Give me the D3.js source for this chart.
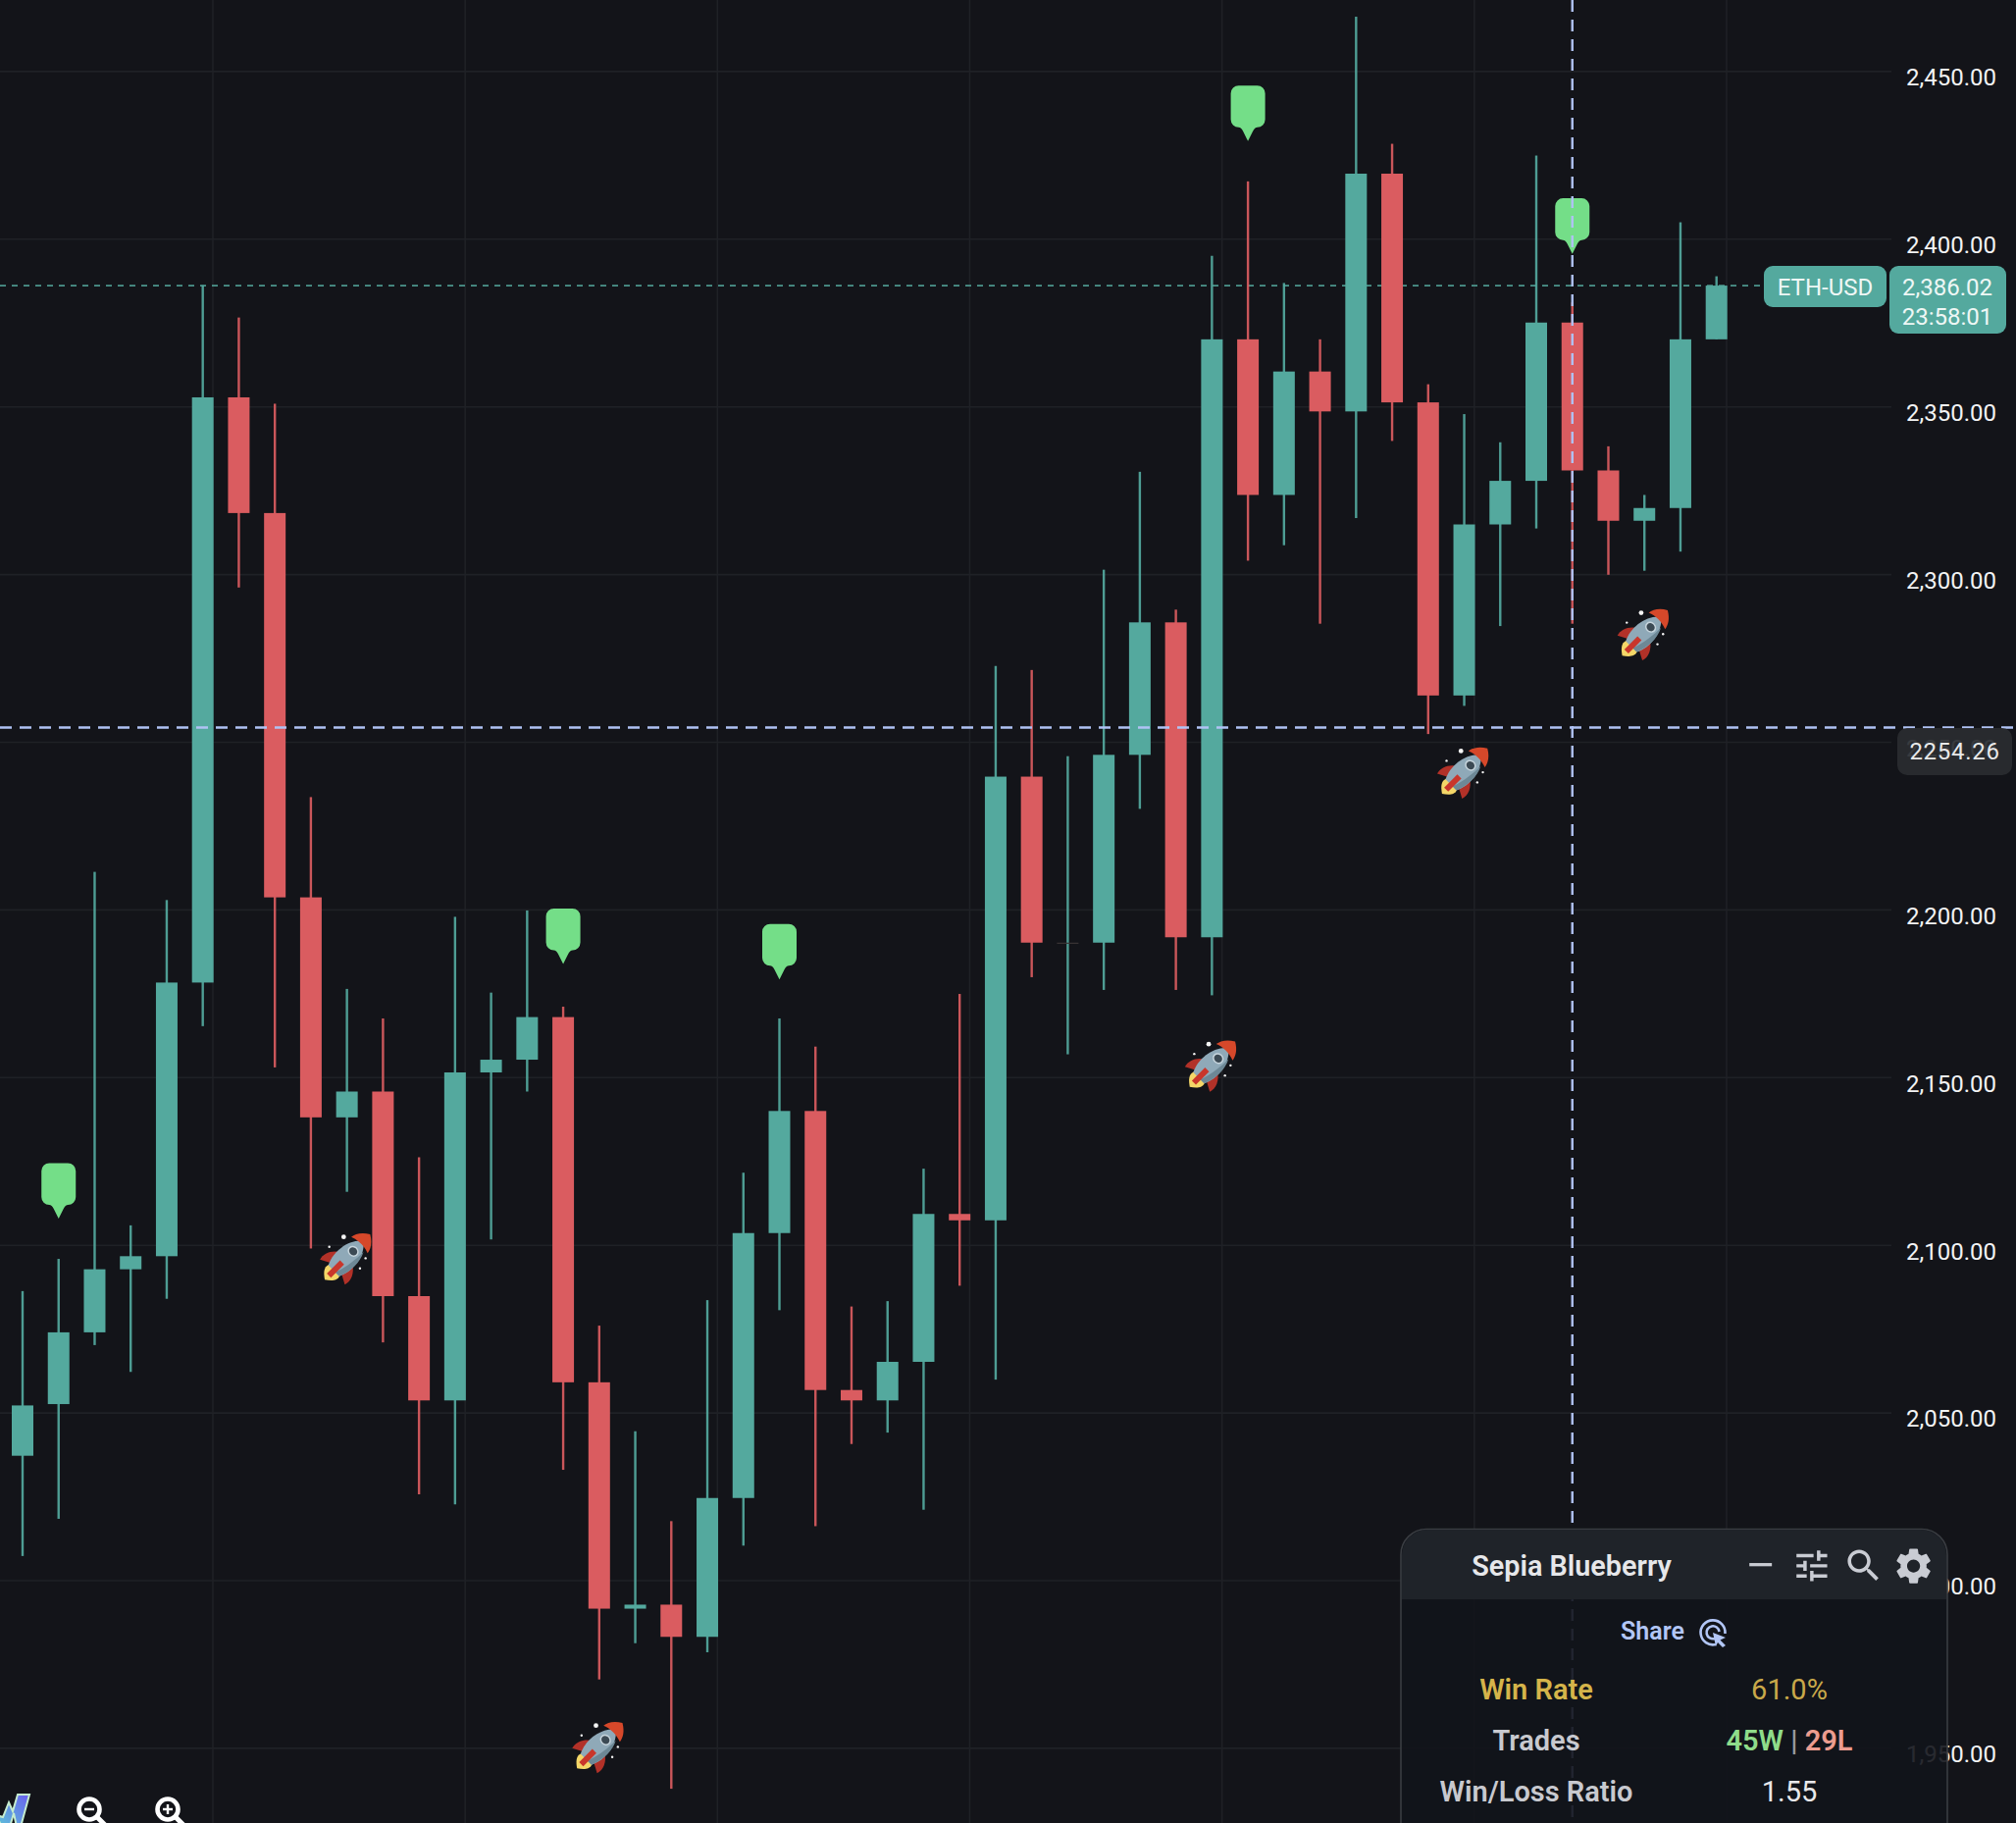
<!DOCTYPE html>
<html>
<head>
<meta charset="utf-8">
<script src="https://cdn.jsdelivr.net/npm/d3@7"></script>
<style>
  html, body { margin: 0; padding: 0; background: #131419; overflow: hidden; }
  svg { display: block; font-family: Roboto, sans-serif; }
</style>
</head>
<body>
<svg id="chart" width="2055" height="1858"></svg>
<script>
// Daily ETH-USD candles, oldest first
const opens = [2037.1,2052.5,2073.9,2092.7,2096.6,2178.2,2352.7,2318.2,2203.6,2138.0,2145.7,2084.7,2053.6,2151.4,2155.2,2167.9,2059.0,1991.5,1992.7,1983.1,2024.5,2103.5,2139.9,2056.7,2053.6,2065.1,2109.2,2107.3,2239.6,2190.1,2190.1,2246.1,2285.6,2191.7,2370.0,2323.6,2360.4,2348.5,2419.4,2351.2,2263.8,2314.8,2327.8,2375.0,2330.9,2315.9,2319.7,2370.0];
const highs = [2086.2,2095.8,2211.2,2105.8,2202.8,2386.1,2376.5,2350.8,2233.5,2176.3,2167.5,2126.1,2197.8,2175.2,2199.7,2171.0,2075.9,2044.4,2017.6,2083.5,2121.5,2167.5,2159.1,2081.6,2083.2,2122.7,2174.8,2272.6,2271.4,2245.7,2301.3,2330.5,2289.4,2394.9,2417.1,2386.8,2370.0,2466.2,2428.3,2356.6,2347.7,2339.3,2424.8,2381.0,2338.1,2323.6,2404.9,2388.8];
const lows = [2007.2,2018.3,2070.1,2062.1,2083.9,2165.2,2296.0,2152.9,2098.9,2115.8,2070.9,2025.6,2022.6,2101.6,2145.7,2032.9,1970.4,1981.2,1937.8,1978.5,2010.3,2080.5,2016.1,2040.6,2044.0,2021.0,2087.8,2059.8,2179.8,2156.8,2176.0,2230.0,2176.0,2174.4,2304.0,2308.6,2285.2,2316.7,2339.7,2252.3,2260.7,2284.5,2313.6,2285.2,2299.8,2301.0,2306.7,2370.0];
const closes = [2052.1,2073.9,2092.7,2096.6,2178.2,2352.7,2318.2,2203.6,2138.0,2145.7,2084.7,2053.6,2151.4,2155.2,2167.9,2059.0,1991.5,1992.7,1983.1,2024.5,2103.5,2139.9,2056.7,2053.6,2065.1,2109.2,2107.3,2239.6,2190.1,2190.1,2246.1,2285.6,2191.7,2370.0,2323.6,2360.4,2348.5,2419.4,2351.2,2263.8,2314.8,2327.8,2375.0,2330.9,2315.9,2319.7,2370.0,2386.02];

// Signals: candle index and the price each marker is pinned to
const flagCandles = [1, 15, 21, 34, 43];
const flagPrices = [2107.8, 2183.7, 2179.1, 2429.1, 2395.5];
const rocketCandles = [9, 16, 33, 40, 45];
const rocketPrices = [2096.2, 1950.5, 2153.7, 2241.1, 2282.3];

const priceTicks = [2450,2400,2350,2300,2250,2200,2150,2100,2050,2000,1950];
const weekLines = [5.28,12.28,19.28,26.28,33.28,40.28,47.28];

const symbolName = "ETH-USD";
const lastPrice = 2386.02;
const countdown = "23:58:01";
const cursorPrice = 2254.26;
const cursorCandle = 43;

const panelTitle = "Sepia Blueberry";
const shareLabel = "Share";
const statLabels = ["Win Rate", "Trades", "Win/Loss Ratio"];
const winRate = "61.0%";
const wins = "45W";
const losses = "29L";
const ratio = "1.55";

const UP = "#54a99e", DOWN = "#da5c60", CROSS = "#b0c2f4", FLAG = "#74de88";
const W = 2055, H = 1858;

const svg = d3.select("#chart");
const x = d3.scaleLinear().domain([0, 47]).range([23, 1749.7]);
const y = d3.scaleLinear().domain([2400, 1950]).range([243.3, 243.3 + 450 * 3.418]);
const candles = opens.map((o, i) => ({ i, o, h: highs[i], l: lows[i], c: closes[i] }));

// Grid
const gridColor = "#1f2126";
svg.append("g").selectAll("line").data(weekLines).join("line")
  .attr("x1", d => x(d)).attr("x2", d => x(d)).attr("y1", 0).attr("y2", H)
  .attr("stroke", gridColor).attr("stroke-width", 1.6);

const axis = svg.append("g").attr("transform", "translate(2035,0)")
  .call(d3.axisLeft(y).tickValues(priceTicks).tickFormat(d3.format(",.2f")).tickSize(0));
axis.select(".domain").remove();
axis.selectAll("text")
  .attr("x", 0).attr("dy", "0.35em").attr("y", 5.9)
  .attr("fill", "#f2f3f4").attr("font-size", 24).attr("font-family", "Roboto");
axis.selectAll(".tick").append("line")
  .attr("x1", -2035).attr("x2", -107).attr("stroke", gridColor).attr("stroke-width", 1.6);

// Last price guide
svg.append("line")
  .attr("x1", 0).attr("x2", 1798).attr("y1", y(lastPrice)).attr("y2", y(lastPrice))
  .attr("stroke", "#4c958c").attr("stroke-width", 1.7).attr("stroke-dasharray", "6 6");

// Candles: a session that closes flat leaves only a faint hairline
const candle = svg.append("g").selectAll("g").data(candles).join("g")
  .attr("fill", d => d.c >= d.o ? UP : DOWN);
candle.append("rect")
  .attr("x", d => x(d.i) - 1.2).attr("width", 2.4)
  .attr("y", d => y(d.h)).attr("height", d => y(d.l) - y(d.h))
  .attr("fill-opacity", 0.92);
candle.append("rect")
  .attr("x", d => x(d.i) - 11).attr("width", 22)
  .attr("y", d => y(Math.max(d.o, d.c)))
  .attr("height", d => Math.max(1.2, Math.abs(y(d.o) - y(d.c))))
  .attr("fill", d => d.o === d.c ? "#3a3536" : null);

// Flag markers, tip on the signal price
svg.append("g").selectAll("path").data(flagCandles).join("path")
  .attr("fill", FLAG)
  .attr("transform", (c, k) => `translate(${x(c)},${y(flagPrices[k])})`)
  .attr("d", "M-17.5,-48.6 a8,8 0 0 1 8,-8 h19 a8,8 0 0 1 8,8 v26.6 a8,8 0 0 1 -8,8 Q7,-14 5,-10 L0,0 L-5,-10 Q-7,-14 -9.5,-14 a8,8 0 0 1 -8,-8 z");

// Rocket markers
const rocket = svg.append("g").selectAll("g").data(rocketCandles).join("g")
  .attr("transform", (c, k) => `translate(${x(c)},${y(rocketPrices[k])})`);
const ship = rocket.append("g").attr("transform", "rotate(45) scale(1.12,1)");
ship.append("path").attr("fill", "#f4d768").attr("d", "M-7,18 C-9,24 -5,28 0,32 C5,28 9,24 7,18 z");
ship.append("path").attr("fill", "#b23128").attr("d", "M-8,1 C-15,6 -18,14 -16,21 L-6,15 z");
ship.append("path").attr("fill", "#b23128").attr("d", "M8,1 C15,6 18,14 16,21 L6,15 z");
ship.append("path").attr("fill", "#8fa9b8").attr("d", "M0,-24 C-11,-14 -13,6 -7,19 L7,19 C13,6 11,-14 0,-24 z");
ship.append("path").attr("fill", "#6d8896").attr("d", "M7,-16 C12,-6 11,8 7,19 L2,19 C6,6 7,-6 7,-16 z");
ship.append("path").attr("fill", "#d6482a").attr("d", "M0,-33.5 C-7,-29 -10,-23 -10.5,-18 C-4,-21 4,-21 10.5,-18 C10,-23 7,-29 0,-33.5 z");
ship.append("path").attr("fill", "#c9362b").attr("d", "M-2.6,7 L2.6,7 L2.6,26 L-2.6,26 z");
ship.append("circle").attr("cy", -9).attr("r", 4.6).attr("fill", "#3c4a54").attr("stroke", "#c6d4dc").attr("stroke-width", 1.4);
[[-3.3, -21, 2.4], [-18, -11, 1.2], [13.3, 11, 1.2], [19, 0.7, 1.2]].forEach(([dx, dy, r]) => {
  rocket.append("circle").attr("cx", dx).attr("cy", dy).attr("r", r).attr("fill", "#f4f4f4");
});

// Crosshair
svg.append("line")
  .attr("x1", 0).attr("x2", W).attr("y1", y(cursorPrice)).attr("y2", y(cursorPrice))
  .attr("stroke", CROSS).attr("stroke-width", 2.4).attr("stroke-dasharray", "12 8");
svg.append("line")
  .attr("x1", x(cursorCandle)).attr("x2", x(cursorCandle)).attr("y1", 0).attr("y2", H)
  .attr("stroke", CROSS).attr("stroke-width", 2.4).attr("stroke-dasharray", "12 8");

// Price tags
const textAt = (sel, tx, ty, str, size, fill, weight = 400, anchor = "middle") =>
  sel.append("text").attr("x", tx).attr("y", ty).attr("dy", "0.35em").attr("text-anchor", anchor)
    .attr("font-size", size).attr("font-weight", weight).attr("fill", fill).text(str);

svg.append("rect").attr("x", 1798).attr("y", 271).attr("width", 125).attr("height", 42).attr("rx", 9).attr("fill", UP);
textAt(svg, 1860.5, 292.5, symbolName, 24, "#eef7f5");
svg.append("rect").attr("x", 1926).attr("y", 271).attr("width", 119).attr("height", 69).attr("rx", 9).attr("fill", UP);
textAt(svg, 1985, 292.5, d3.format(",.2f")(lastPrice), 24, "#eef7f5");
textAt(svg, 1985, 322.5, countdown, 24, "#eef7f5");

svg.append("rect").attr("x", 1934).attr("y", 742).attr("width", 117).attr("height", 48).attr("rx", 10).attr("fill", "#2a2c30").attr("fill-opacity", 0.93);
textAt(svg, 1992.5, 765.5, cursorPrice.toFixed(2), 24, "#e8e9ea").attr("letter-spacing", 0.7);

// Stats panel
const panel = svg.append("g");
panel.append("rect").attr("x", 1428).attr("y", 1558.5).attr("width", 557).attr("height", 400).attr("rx", 26)
  .attr("fill", "#12141b").attr("fill-opacity", 0.9).attr("stroke", "#3a3d42").attr("stroke-width", 1.6);
panel.append("path").attr("fill", "#1f2329")
  .attr("d", "M1429,1630 V1585 a26,26 0 0 1 26,-26 H1958 a26,26 0 0 1 26,26 V1630 z");
textAt(panel, 1602, 1596, panelTitle, 28.8, "#e6e7ea", 600);

const ICON = "#c9ccd3";
const icon = (d, tx, ty, s) => panel.append("path").attr("d", d).attr("fill", ICON)
  .attr("transform", `translate(${tx},${ty}) scale(${s})`);
icon("M5 11h14v2H5z", 1775, 1575, 1.64);
icon("M3 17v2h6v-2H3zM3 5v2h10V5H3zm10 16v-2h8v-2h-8v-2h-2v6h2zM7 9v2H3v2h4v2h2V9H7zm14 4v-2H11v2h10zm-6-4h2V7h4V5h-4V3h-2v6z", 1826, 1575, 1.74);
icon("M15.5 14h-.79l-.28-.27C15.41 12.59 16 11.11 16 9.5 16 5.91 13.09 3 9.5 3S3 5.91 3 9.5 5.91 16 9.5 16c1.61 0 3.09-.59 4.23-1.57l.27.28v.79l5 4.99L20.49 19l-4.99-5zm-6 0C7.01 14 5 11.99 5 9.5S7.01 5 9.5 5 14 7.01 14 9.5 11.99 14 9.5 14z", 1878, 1574, 1.8);
icon("M19.14 12.94c.04-.3.06-.61.06-.94 0-.32-.02-.64-.07-.94l2.03-1.58c.18-.14.23-.41.12-.61l-1.92-3.32c-.12-.22-.37-.29-.59-.22l-2.39.96c-.5-.38-1.03-.7-1.62-.94l-.36-2.54c-.04-.24-.24-.41-.48-.41h-3.84c-.24 0-.43.17-.47.41l-.36 2.54c-.59.24-1.13.57-1.62.94l-2.39-.96c-.22-.08-.47 0-.59.22L2.74 8.87c-.12.21-.08.47.12.61l2.03 1.58c-.05.3-.09.63-.09.94s.02.64.07.94l-2.03 1.58c-.18.14-.23.41-.12.61l1.92 3.32c.12.22.37.29.59.22l2.39-.96c.5.38 1.03.7 1.62.94l.36 2.54c.05.24.24.41.48.41h3.84c.24 0 .44-.17.47-.41l.36-2.54c.59-.24 1.13-.56 1.62-.94l2.39.96c.22.08.47 0 .59-.22l1.92-3.32c.12-.22.07-.47-.12-.61l-2.01-1.58zM12 15.6c-1.98 0-3.6-1.62-3.6-3.6s1.62-3.6 3.6-3.6 3.6 1.62 3.6 3.6-1.62 3.6-3.6 3.6z", 1928.5, 1574, 1.84);

const SHARE = "#b2c6f6";
textAt(panel, 1684.5, 1662.5, shareLabel, 25, SHARE, 600);
const click = panel.append("g").attr("transform", "translate(1746,1664)").attr("fill", "none").attr("stroke", SHARE).attr("stroke-width", 2.6);
click.append("path").attr("d", "M3,12 A12.5,12.5 0 1 1 12.5,1");
click.append("path").attr("d", "M2,6 A6.5,6.5 0 1 1 6.5,-1");
click.append("path").attr("d", "M0,0 L13,5 L7.5,7.5 L13,13 L10,15 L5,10 L3,14 z").attr("fill", SHARE).attr("stroke", "none");

const rowY = [1722, 1773.5, 1825.5];
textAt(panel, 1566, rowY[0], statLabels[0], 29, "#d5b44a", 600);
textAt(panel, 1566, rowY[1], statLabels[1], 29, "#c8c9cf", 600);
textAt(panel, 1566, rowY[2], statLabels[2], 29, "#c8c9cf", 600);
textAt(panel, 1824, rowY[0], winRate, 29, "#c9a94a", 400);
const tradeRow = textAt(panel, 1824, rowY[1], "", 29, "#9a9ba0", 600);
tradeRow.append("tspan").attr("fill", "#8fdc8a").text(wins);
tradeRow.append("tspan").attr("fill", "#9a9ba0").text(" | ");
tradeRow.append("tspan").attr("fill", "#ec9c8f").text(losses);
textAt(panel, 1824, rowY[2], ratio, 29, "#e8e8ea", 400);

// Toolbar along the bottom edge
const toolbar = svg.append("g");
const defs = svg.append("defs");
const grad = defs.append("linearGradient").attr("id", "brand").attr("x1", 0).attr("y1", 1).attr("x2", 1).attr("y2", 0);
grad.append("stop").attr("offset", 0).attr("stop-color", "#5cc6d8");
grad.append("stop").attr("offset", 1).attr("stop-color", "#6a5ff0");
toolbar.append("path").attr("fill", "url(#brand)").attr("stroke", "#c5ecd0").attr("stroke-width", 2)
  .attr("d", "M-4,1850 L2,1862 L10,1862 L14,1848 L17,1862 L21,1862 L30,1829 L18,1829 L13,1846 L9,1837 L3,1852 z");
[[91, "minus"], [171, "plus"]].forEach(([cx, kind]) => {
  const g = toolbar.append("g").attr("transform", `translate(${cx},1844)`).attr("stroke", "#fff").attr("fill", "none");
  g.append("circle").attr("r", 10.5).attr("stroke-width", 4.6);
  g.append("line").attr("x1", 8).attr("y1", 8).attr("x2", 17).attr("y2", 17).attr("stroke-width", 5);
  g.append("line").attr("x1", -5).attr("x2", 5).attr("stroke-width", 2.4);
  if (kind === "plus") g.append("line").attr("y1", -5).attr("y2", 5).attr("stroke-width", 2.4);
});
</script>
</body>
</html>
